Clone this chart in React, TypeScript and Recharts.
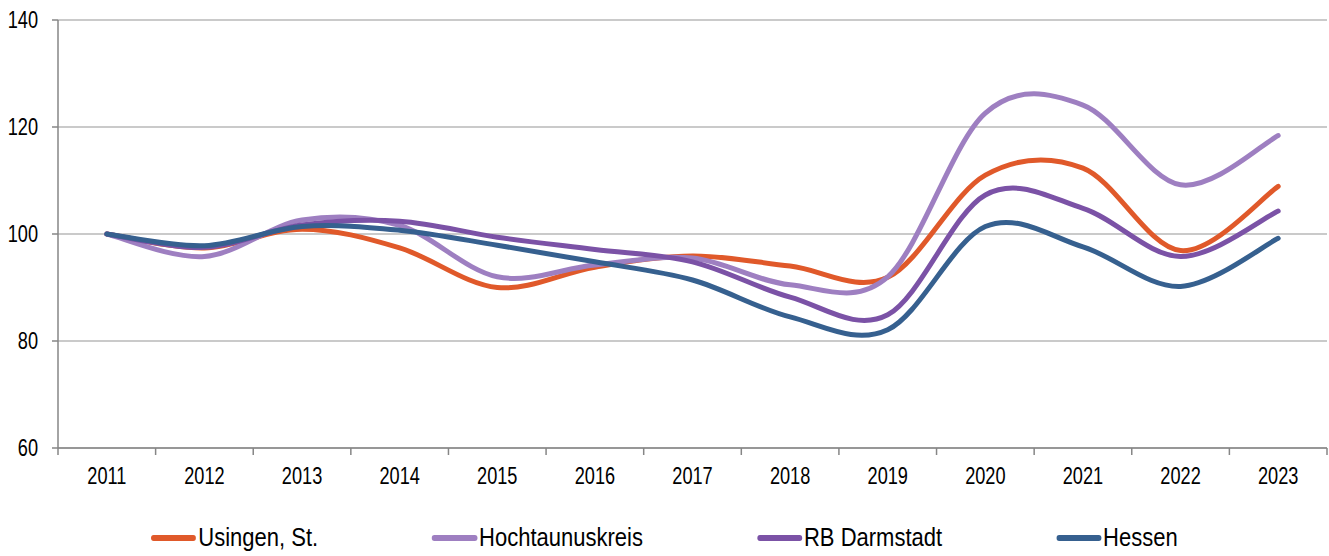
import { LineChart, Line, XAxis, YAxis, CartesianGrid } from 'recharts'

const years = ['2011', '2012', '2013', '2014', '2015', '2016', '2017', '2018', '2019', '2020', '2021', '2022', '2023']
const usingen = [100, 97.4, 100.9, 97.4, 90.0, 93.8, 95.9, 94.0, 91.9, 111.0, 112.3, 96.9, 108.9]
const hochtaunus = [100, 95.8, 102.6, 101.6, 92.0, 94.2, 95.5, 90.5, 92.0, 122.6, 124.1, 109.2, 118.4]
const darmstadt = [100, 97.5, 101.7, 102.4, 99.4, 97.1, 94.8, 88.2, 84.9, 107.3, 104.8, 95.8, 104.3]
const hessen = [100, 97.8, 101.4, 100.7, 97.9, 94.8, 91.4, 84.5, 82.1, 101.4, 97.6, 90.2, 99.2]
const yTicks = [60, 80, 100, 120, 140]

const series = [
  { key: 'usingen', name: 'Usingen, St.', color: '#E0592A' },
  { key: 'hochtaunus', name: 'Hochtaunuskreis', color: '#9E7FC1' },
  { key: 'darmstadt', name: 'RB Darmstadt', color: '#7B52A6' },
  { key: 'hessen', name: 'Hessen', color: '#36608F' },
]

const data = years.map((year, i) => ({
  year,
  usingen: usingen[i],
  hochtaunus: hochtaunus[i],
  darmstadt: darmstadt[i],
  hessen: hessen[i],
}))

const W = 1329
const H = 556
const M = { top: 20, right: 2, left: 0, bottom: 68 }
const Y_W = 58
const PLOT_W = W - M.left - M.right - Y_W
// no narrow font installed, so squeeze Liberation Sans horizontally
const FONT = '"Liberation Sans", Arial, sans-serif'
const SQUEEZE = 0.79
const LEGEND_SQUEEZE = 0.88
const AXIS_GREY = '#868686'

// Excel-like smoothing: Catmull-Rom through every point
function excelCurve(context: any) {
  let pts: number[][] = []
  return {
    areaStart() {},
    areaEnd() {},
    lineStart() {
      pts = []
    },
    lineEnd() {
      const n = pts.length
      if (!n) return
      context.moveTo(pts[0][0], pts[0][1])
      for (let i = 0; i < n - 1; i++) {
        const p0 = pts[Math.max(i - 1, 0)]
        const p1 = pts[i]
        const p2 = pts[i + 1]
        const p3 = pts[Math.min(i + 2, n - 1)]
        context.bezierCurveTo(
          p1[0] + (p2[0] - p0[0]) / 6, p1[1] + (p2[1] - p0[1]) / 6,
          p2[0] - (p3[0] - p1[0]) / 6, p2[1] - (p3[1] - p1[1]) / 6,
          p2[0], p2[1],
        )
      }
    },
    point(x: number, y: number) {
      pts.push([+x, +y])
    },
  }
}

function YearTick(props: any) {
  const { x, y, payload, index } = props
  const band = PLOT_W / years.length
  const last = index === years.length - 1
  return (
    <g>
      <line x1={x - band / 2} x2={x - band / 2} y1={y} y2={y + 7} stroke={AXIS_GREY} strokeWidth={1.5} />
      {last && <line x1={x + band / 2} x2={x + band / 2} y1={y} y2={y + 7} stroke={AXIS_GREY} strokeWidth={1.5} />}
      <text
        transform={`translate(${x},${y + 36}) scale(${SQUEEZE},1)`}
        textAnchor="middle"
        fill="#000"
        fontSize={23}
        fontFamily={FONT}
      >
        {payload.value}
      </text>
    </g>
  )
}

function ValueTick(props: any) {
  const { x, y, payload } = props
  return (
    <text
      transform={`translate(${x},${y + 8}) scale(${SQUEEZE},1)`}
      textAnchor="end"
      fill="#000"
      fontSize={23}
      fontFamily={FONT}
    >
      {payload.value}
    </text>
  )
}

export default function App() {
  return (
    <div style={{ position: 'absolute', left: 0, top: 0, width: W, height: H, background: '#fff' }}>
      <LineChart width={W} height={H} data={data} margin={M}>
        <CartesianGrid stroke="#B8B8B8" strokeWidth={1.5} vertical={false} />
        <XAxis
          dataKey="year"
          scale="band"
          tickLine={false}
          tickSize={0}
          tickMargin={0}
          axisLine={{ stroke: AXIS_GREY, strokeWidth: 1.5 }}
          tick={<YearTick />}
          interval={0}
          height={40}
        />
        <YAxis
          domain={[60, 140]}
          ticks={yTicks}
          width={Y_W}
          tickSize={6}
          tickMargin={14}
          tickLine={{ stroke: AXIS_GREY, strokeWidth: 1.5 }}
          axisLine={{ stroke: AXIS_GREY, strokeWidth: 1.5 }}
          tick={<ValueTick />}
        />
        {series.map(s => (
          <Line
            key={s.key}
            dataKey={s.key}
            name={s.name}
            type={excelCurve as any}
            stroke={s.color}
            strokeWidth={5}
            strokeLinecap="round"
            dot={false}
            activeDot={false}
            isAnimationActive={false}
          />
        ))}
      </LineChart>
      <div
        style={{
          position: 'absolute',
          left: 0,
          top: 523,
          width: W,
          display: 'flex',
          justifyContent: 'center',
          transform: `scaleX(${LEGEND_SQUEEZE})`,
          transformOrigin: 'center',
        }}
      >
        <div
          style={{
            display: 'flex',
            gap: 114 / LEGEND_SQUEEZE,
            fontFamily: FONT,
            fontSize: 25,
            color: '#000',
            whiteSpace: 'nowrap',
          }}
        >
          {series.map(s => (
            <div key={s.key} style={{ display: 'flex', alignItems: 'center' }}>
              <span
                style={{
                  width: 45 / LEGEND_SQUEEZE,
                  height: 6,
                  borderRadius: 3,
                  background: s.color,
                  marginRight: 2 / LEGEND_SQUEEZE,
                }}
              />
              <span>{s.name}</span>
            </div>
          ))}
        </div>
      </div>
    </div>
  )
}
